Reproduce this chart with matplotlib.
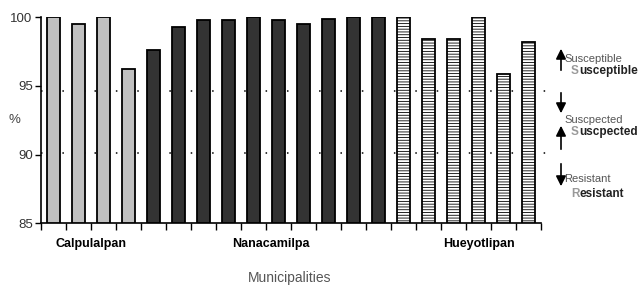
import matplotlib.pyplot as plt
from matplotlib.patches import FancyArrowPatch

# data
calpulalpan = [100, 99.5, 100, 96.2]
nanacamilpa = [97.6, 99.3, 99.8, 99.8, 100, 99.8, 99.5, 99.9, 100, 100]
hueyotlipan = [100, 98.4, 98.4, 100, 95.9, 98.2]
groups = ['Calpulalpan', 'Nanacamilpa', 'Hueyotlipan']
group_label_pos = [1.5, 8.7, 17.0]
cutoffs = [94.65, 90.1]
yticks = [85, 90, 95, 100]

plt.rcParams['font.family'] = ['Liberation Sans', 'DejaVu Sans']
plt.rcParams['hatch.linewidth'] = 0.6

fig = plt.figure(figsize=(6.39, 2.86), dpi=100)
ax = fig.add_axes([0.0642, 0.219, 0.7825, 0.721])

n1, n2 = len(calpulalpan), len(nanacamilpa)
x1 = range(n1)
x2 = range(n1, n1 + n2)
x3 = range(n1 + n2, n1 + n2 + len(hueyotlipan))
w = 0.52
base = 85

ax.bar(x1, [v - base for v in calpulalpan], w, bottom=base, color='#c0c0c0',
       edgecolor='black', linewidth=1.3, zorder=3)
ax.bar(x2, [v - base for v in nanacamilpa], w, bottom=base, color='#333333',
       edgecolor='black', linewidth=1.3, zorder=3)
ax.bar(x3, [v - base for v in hueyotlipan], w, bottom=base, color='white',
       edgecolor='black', linewidth=1.3, hatch='------', zorder=3)

for c in cutoffs:
    ax.plot([-0.5, 20.0], [c, c], color='black', linestyle=(0, (1, 6)),
            linewidth=1.1, zorder=1, clip_on=False)

ax.set_xlim(-0.5, 19.5)
ax.set_ylim(85, 100)
ax.spines['top'].set_visible(False)
ax.spines['right'].set_visible(False)
ax.spines['left'].set_linewidth(1.2)
ax.spines['bottom'].set_linewidth(1.2)
ax.set_xticks([i - 0.5 for i in range(21)])
ax.set_xticklabels([])
ax.tick_params(axis='x', length=5, width=1.0)
ax.set_yticks(yticks)
ax.set_yticklabels([str(t) for t in yticks], fontsize=9.5, color='#333333')
ax.tick_params(axis='y', length=4, width=1.0, pad=2)

for g, p in zip(groups, group_label_pos):
    ax.text(p, -0.1, g, transform=ax.get_xaxis_transform(), ha='center',
            va='center', fontweight='bold', fontsize=9)

fig.text(290 / 639, 1 - 278 / 286, 'Municipalities', ha='center', va='center',
         fontsize=10, color='#555555')
fig.text(14 / 639, 1 - 120 / 286, '%', ha='center', va='center',
         fontsize=9.5, color='#444444')


# arrows on the right, in figure pixels
def farrow(xa, ya, xb, yb):
    fig.add_artist(FancyArrowPatch(
        (xa / 639, 1 - ya / 286), (xb / 639, 1 - yb / 286),
        transform=fig.transFigure, arrowstyle='-|>', color='black',
        lw=1.2, mutation_scale=15))


farrow(561, 73, 561, 46)
farrow(561, 90, 561, 116)
farrow(561, 152, 561, 123)
farrow(561, 161, 561, 189)

labels = [('Susceptible', 59, 71), ('Suscpected', 120, 132), ('Resistant', 179, 194)]
for txt, ys, yb in labels:
    fig.text(564 / 639, 1 - ys / 286, txt, ha='left', va='center',
             fontsize=8, color='#555555')
    t = fig.text(571 / 639, 1 - yb / 286, txt[0], ha='left', va='center',
                 fontsize=8.5, color='#999999', fontweight='bold')
    ax.annotate(txt[1:], xy=(1, 0), xycoords=t, ha='left', va='bottom',
                fontsize=8.5, fontweight='bold', color='#222222',
                annotation_clip=False)

fig.savefig('out.png', dpi=100)
